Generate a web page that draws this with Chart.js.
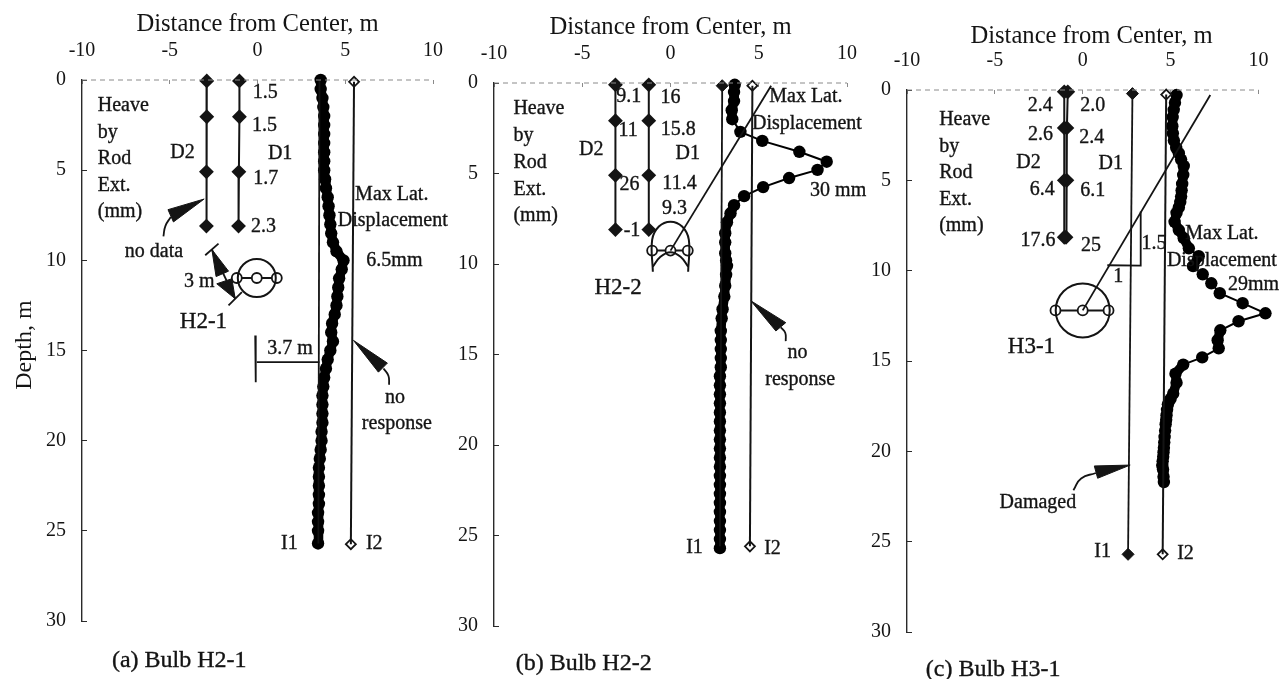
<!DOCTYPE html>
<html>
<head>
<meta charset="utf-8">
<script src="https://cdn.jsdelivr.net/npm/chart.js@4/dist/chart.umd.min.js"></script>
<style>
  html, body { margin: 0; padding: 0; background: #fff; overflow: hidden; }
  canvas { position: absolute; top: 0; }
</style>
</head>
<body>
<canvas id="panel-a" width="450" height="679" style="left:0"></canvas>
<canvas id="panel-b" width="420" height="679" style="left:450px"></canvas>
<canvas id="panel-c" width="421" height="679" style="left:860px"></canvas>
<script>
const distanceTicks = [-10, -5, 0, 5, 10]
const depthTicks = [0, 5, 10, 15, 20, 25, 30]

// (a) Bulb H2-1
const aI1Depth = [0, 0.5, 1, 1.5, 2, 2.5, 3, 3.5, 4, 4.5, 5, 5.5, 6, 6.5, 7, 7.5, 8, 8.5, 9, 9.5, 10, 10.5, 11, 11.5, 12, 12.5, 13, 13.5, 14, 14.5, 15, 15.5, 16, 16.5, 17, 17.5, 18, 18.5, 19, 19.5, 20, 20.5, 21, 21.5, 22, 22.5, 23, 23.5, 24, 24.5, 25, 25.7]
const aI1Disp = [3.6, 3.6, 3.7, 3.75, 3.8, 3.8, 3.8, 3.8, 3.8, 3.8, 3.8, 3.85, 3.9, 4.0, 4.05, 4.1, 4.15, 4.2, 4.3, 4.5, 4.9, 4.8, 4.65, 4.6, 4.55, 4.5, 4.4, 4.25, 4.2, 4.3, 4.15, 4.0, 3.9, 3.8, 3.75, 3.7, 3.7, 3.7, 3.7, 3.65, 3.65, 3.6, 3.55, 3.5, 3.5, 3.5, 3.5, 3.5, 3.45, 3.45, 3.45, 3.45]
const aI1Line = [[3.53, 0], [3.47, 25.7]]
const aI2Line = [[5.5, 0.1], [5.32, 25.74]]
const aD2 = [[-2.89, 0.05], [-2.89, 2.04], [-2.91, 5.09], [-2.91, 8.1]]
const aD1 = [[-1.03, 0.05], [-1.03, 2.04], [-1.06, 5.09], [-1.08, 8.1]]
const aBulbDots = [[-1.18, 10.98], [-0.04, 10.98], [1.1, 10.98]]
const aWedges = [
  [[-3.04, 6.6], [-5.1, 7.19], [-4.79, 7.87]],
  [[-2.6, 9.4], [-2.36, 10.9], [-1.65, 10.6]],
  [[-1.27, 12.13], [-2.32, 11.3], [-1.46, 11.02]],
  [[5.47, 14.44], [7.4, 15.7], [6.89, 16.2]],
]
const aLeaders = [
  [[-4.94, 7.6], [-5.25, 8.1], [-5.36, 8.67]],
  [[7.18, 16], [7.46, 16.4], [7.5, 16.9]],
]
const aRules = [
  [[-2.98, 9.72], [-2.22, 9.07]],
  [[-1.65, 12.5], [-0.89, 11.76]],
  [[-2.6, 9.4], [-1.27, 12.13]],
  [[-0.04, 15.65], [3.53, 15.65]],
  [[-0.13, 14.17], [-0.1, 16.76]],
]
const aLabels = [
  ['Heave', -9.1, 1.44, 'left'], ['by', -9.1, 2.93, 'left'], ['Rod', -9.1, 4.37, 'left'], ['Ext.', -9.1, 5.87, 'left'], ['(mm)', -9.1, 7.33, 'left'],
  ['1.5', 0.44, 0.7], ['1.5', 0.4, 2.56], ['1.7', 0.47, 5.5], ['2.3', 0.34, 8.15],
  ['D2', -4.27, 4.04], ['D1', 1.29, 4.11],
  ['Max Lat.', 7.65, 6.39], ['Displacement', 7.71, 7.81], ['6.5mm', 7.8, 10],
  ['no data', -5.9, 9.5], ['3 m', -3.32, 11.2], ['3.7 m', 1.86, 14.9],
  ['no', 7.84, 17.6], ['response', 7.94, 19.07], ['I1', 1.82, 25.69], ['I2', 6.65, 25.69],
  ['H2-1', -3.08, 13.43, 'center', 23], ['(a) Bulb H2-1', -4.46, 32.2, 'center', 24],
]

// (b) Bulb H2-2
const bI1Depth = [0.1, 0.5, 1, 1.5, 2, 2.7, 3.2, 3.8, 4.35, 4.8, 5.25, 5.75, 6.25, 6.75, 7.2, 7.7, 8.3, 8.8, 9.4, 9.8, 10.1, 10.6, 11.2, 11.8, 12.5, 13, 13.7, 14.2, 14.7, 15.2, 15.7, 16.2, 16.7, 17.2, 17.7, 18.2, 18.7, 19.2, 19.7, 20.2, 20.7, 21.2, 21.7, 22.2, 22.7, 23.2, 23.7, 24.2, 24.7, 25.2, 25.7]
const bI1Disp = [3.64, 3.6, 3.6, 3.47, 3.5, 3.96, 5.2, 7.3, 8.85, 8.33, 6.72, 5.25, 4.17, 3.6, 3.4, 3.2, 3.1, 3.1, 3.1, 3.15, 3.2, 3.15, 3.1, 3.05, 2.95, 2.9, 2.85, 2.85, 2.85, 2.85, 2.85, 2.8, 2.8, 2.8, 2.8, 2.8, 2.8, 2.8, 2.8, 2.8, 2.8, 2.8, 2.8, 2.8, 2.8, 2.8, 2.8, 2.8, 2.8, 2.8, 2.8]
const bI1Line = [[2.93, 0.15], [2.8, 25.6]]
const bI2Line = [[4.64, 0.15], [4.5, 25.6]]
const bD2 = [[-3.12, 0.1], [-3.12, 2.08], [-3.12, 5.1], [-3.12, 8.1]]
const bD1 = [[-1.23, 0.1], [-1.23, 2.08], [-1.23, 5.1], [-1.23, 8.1]]
const bBulbDots = [[-1.04, 9.26], [0, 9.26], [0.98, 9.26]]
const bWedges = [
  [[4.55, 12.03], [6.53, 13.24], [5.97, 13.7]],
]
const bLeaders = [
  [[6.25, 13.5], [6.5, 13.8], [6.53, 14.26]],
]
const bRules = [
  [[5.7, 0.15], [0, 9.26]],
]
const bArches = [
  [[-1, 10.43], [-1.04, 8.67], [-0.66, 7.93], [0, 7.66], [0.66, 7.93], [1.04, 8.67], [1, 10.43]],
  [[-1, 10.15], [-0.57, 9.6], [0, 9.35], [0.57, 9.6], [1, 10.15]],
]
const bLabels = [
  ['Heave', -8.9, 1.43, 'left'], ['by', -8.9, 2.93, 'left'], ['Rod', -8.9, 4.39, 'left'], ['Ext.', -8.9, 5.89, 'left'], ['(mm)', -8.9, 7.35, 'left'],
  ['9.1', -2.37, 0.78], ['16', 0, 0.8], ['11', -2.4, 2.63], ['15.8', 0.44, 2.59],
  ['D2', -4.49, 3.7], ['D1', 0.98, 3.89], ['26', -2.33, 5.6], ['11.4', 0.51, 5.55],
  ['9.3', 0.23, 6.94], ['-1', -2.18, 8.15],
  ['Max Lat.', 7.67, 0.78], ['Displacement', 7.73, 2.26], ['30 mm', 9.5, 5.96],
  ['no', 7.2, 14.9], ['response', 7.35, 16.4], ['I1', 1.36, 25.7], ['I2', 5.78, 25.75],
  ['H2-2', -2.97, 11.33, 'center', 23], ['(b) Bulb H2-2', -4.92, 32.1, 'center', 24],
]

// (c) Bulb H3-1
const cI1Depth = [0.28, 0.7, 1.1, 1.5, 2, 2.4, 2.8, 3.2, 3.5, 3.85, 4.2, 4.7, 5.2, 5.55, 5.9, 6.2, 6.5, 6.8, 7.3, 7.75, 8.2, 8.76, 9.2, 9.75, 10.2, 10.7, 11.25, 11.8, 12.36, 12.8, 13.3, 13.85, 14.3, 14.8, 15.2, 15.7, 16.2, 16.8, 17.1, 17.4, 17.7, 18, 18.25, 18.5, 18.85, 19.2, 19.5, 19.8, 20.05, 20.3, 20.55, 20.8, 21, 21.4, 21.7]
const cI1Disp = [5.34, 5.25, 5.18, 5.12, 5.1, 5.13, 5.19, 5.32, 5.47, 5.6, 5.75, 5.72, 5.66, 5.63, 5.6, 5.55, 5.47, 5.34, 5.23, 5.47, 5.75, 6.04, 6.6, 6.28, 6.83, 7.32, 7.8, 9.1, 10.4, 8.87, 7.83, 7.68, 7.74, 6.8, 5.72, 5.28, 5.34, 5.15, 5, 4.85, 4.8, 4.77, 4.75, 4.72, 4.69, 4.66, 4.64, 4.62, 4.6, 4.58, 4.55, 4.53, 4.57, 4.6, 4.62]
const cI1Line = [[2.83, 0.2], [2.58, 25.7]]
const cI2Line = [[4.75, 0.25], [4.55, 25.7]]
const cD2 = [[-1.05, 0.1], [-1.05, 2.1], [-1.05, 5], [-1.05, 8.15]]
const cD1 = [[-0.85, 0.1], [-0.9, 2.1], [-0.9, 5], [-0.95, 8.15]]
const cBulbDots = [[-1.55, 12.2], [0, 12.2], [1.47, 12.2]]
const cWedges = [
  [[2.7, 20.76], [0.66, 20.81], [0.85, 21.49]],
]
const cLeaders = [
  [[0.75, 21.2], [-0.09, 21.5], [-0.53, 22.15]],
]
const cRules = [
  [[7.26, 0.28], [0, 12.2]],
  [[1.4, 9.7], [3.3, 9.72], [3.3, 6.73]],
]
const cLabels = [
  ['Heave', -8.17, 1.66, 'left'], ['by', -8.17, 3.14, 'left'], ['Rod', -8.17, 4.58, 'left'], ['Ext.', -8.17, 6.05, 'left'], ['(mm)', -8.17, 7.53, 'left'],
  ['2.4', -2.42, 0.89], ['2.0', 0.57, 0.89], ['2.6', -2.4, 2.49], ['2.4', 0.51, 2.64],
  ['D2', -3.08, 4], ['D1', 1.6, 4.1], ['6.4', -2.3, 5.54], ['6.1', 0.57, 5.59],
  ['17.6', -2.55, 8.34], ['25', 0.47, 8.63],
  ['Max Lat.', 7.92, 7.93], ['Displacement', 7.92, 9.45], ['29mm', 9.72, 10.8],
  ['1.5', 4.06, 8.49], ['1', 2.02, 10.33],
  ['I1', 1.13, 25.55], ['I2', 5.85, 25.65], ['Damaged', -2.55, 22.82],
  ['H3-1', -2.92, 14.2, 'center', 23], ['(c) Bulb H3-1', -5.1, 32.07, 'center', 24],
]

const ink = '#141414'
const serif = '"Liberation Serif", serif'

function pairs(list) {
  return list.map((p) => ({ x: p[0], y: p[1] }))
}

function zip(xs, ys) {
  return xs.map((x, i) => ({ x: x, y: ys[i] }))
}

function line(data, width, extra) {
  return Object.assign({ data: data, showLine: true, borderColor: ink, borderWidth: width, pointRadius: 0, clip: false }, extra)
}

// text notes sit in data units, so they follow the axes
const notesPlugin = {
  id: 'notes',
  afterDatasetsDraw(chart, args, opts) {
    const ctx = chart.ctx
    ctx.save()
    ctx.fillStyle = ink
    ctx.strokeStyle = ink
    ctx.lineWidth = 0.35
    ctx.textBaseline = 'middle'
    opts.labels.forEach((n) => {
      ctx.font = (n[4] || 20) + 'px ' + serif
      ctx.textAlign = n[3] || 'center'
      const px = chart.scales.x.getPixelForValue(n[1])
      const py = chart.scales.y.getPixelForValue(n[2])
      ctx.fillText(n[0], px, py)
      ctx.strokeText(n[0], px, py)
    })
    ctx.restore()
  },
}

function drawPanel(id, p) {
  const datasets = []
  // dashed top edge of the plot
  datasets.push(line(pairs([[-10, 0], [10, 0]]), 1, { borderColor: '#8a8a8a', borderDash: [5, 4] }))
  p.rules.forEach((r) => datasets.push(line(pairs(r), 1.8)))
  p.leaders.forEach((r) => datasets.push(line(pairs(r), 1.8, { tension: 0.5 })))
  p.wedges.forEach((w) =>
    datasets.push(line(pairs(w.concat([w[0]])), 1, { fill: 'shape', backgroundColor: ink })),
  )
  ;(p.arches || []).forEach((r) => datasets.push(line(pairs(r), 2, { tension: 0.4 })))
  if (p.bulbRadius) {
    datasets.push({ data: pairs([p.bulbDots[1]]), pointRadius: p.bulbRadius, pointBackgroundColor: 'transparent', pointBorderColor: ink, pointBorderWidth: 2, clip: false })
  }
  datasets.push(line(pairs(p.bulbDots), 2, { pointRadius: 5, pointBackgroundColor: '#fff', pointBorderColor: ink, pointBorderWidth: 1.8 }))
  datasets.push(line(pairs(p.d2), 2, { pointStyle: 'rectRot', pointRadius: 6, pointBackgroundColor: ink, pointBorderColor: ink }))
  datasets.push(line(pairs(p.d1), 2, { pointStyle: 'rectRot', pointRadius: 6, pointBackgroundColor: ink, pointBorderColor: ink }))
  datasets.push(line(pairs(p.i1Line), 1.8))
  datasets.push(line(pairs(p.i2Line), 2))
  if (p.i1Ends) {
    datasets.push({ data: pairs(p.i1Ends), pointStyle: 'rectRot', pointRadius: 6, pointBackgroundColor: ink, pointBorderColor: ink, clip: false })
  }
  datasets.push({ data: pairs(p.i2Ends), pointStyle: 'rectRot', pointRadius: 5, pointBackgroundColor: '#fff', pointBorderColor: ink, pointBorderWidth: 1.8, clip: false })
  // close spacing reads as a solid band, so the near vertical runs get a thick line
  datasets.push(line(zip(p.i1Disp, p.i1Depth), 2, {
    pointRadius: 6.2,
    pointBackgroundColor: '#000',
    pointBorderWidth: 0,
    borderColor: '#000',
    segment: {
      borderWidth: (ctx) => (Math.abs(ctx.p0.parsed.x - ctx.p1.parsed.x) < 0.45 ? 9.5 : 2),
    },
  }))

  new Chart(document.getElementById(id), {
    type: 'scatter',
    data: { datasets: datasets },
    plugins: [notesPlugin],
    options: {
      responsive: false,
      animation: false,
      layout: { autoPadding: false, padding: { top: p.top - 70, bottom: 679 - p.bottom, right: p.right, left: 0 } },
      plugins: { legend: { display: false }, tooltip: { enabled: false }, notes: { labels: p.labels } },
      scales: {
        x: {
          position: 'top',
          min: -10,
          max: p.xMax,
          afterBuildTicks(scale) {
            scale.ticks = distanceTicks.map((v) => ({ value: v }))
          },
          afterFit(scale) {
            scale.height = 70
            scale.paddingLeft = 0
            scale.paddingRight = 0
          },
          border: { display: false },
          grid: { drawOnChartArea: false, tickLength: -4, color: '#8a8a8a' },
          ticks: { padding: 21, color: ink, font: { family: serif, size: 20 }, maxRotation: 0, autoSkip: false },
          title: { display: true, text: 'Distance from Center, m', color: ink, font: { family: serif, size: 24.6 }, padding: { top: p.titlePad, bottom: 0 } },
        },
        y: {
          reverse: true,
          min: 0,
          max: 30,
          afterBuildTicks(scale) {
            scale.ticks = depthTicks.map((v) => ({ value: v }))
          },
          afterFit(scale) {
            scale.width = p.left
            scale.paddingTop = 0
            scale.paddingBottom = 0
          },
          border: { color: '#2a2a2a', width: 1.4 },
          grid: { drawOnChartArea: false, tickLength: -5, color: '#2a2a2a' },
          ticks: { padding: 21, color: ink, font: { family: serif, size: 20 }, autoSkip: false },
          title: { display: false },
        },
      },
    },
  })
}

drawPanel('panel-a', {
  left: 82, right: 17, top: 80, bottom: 621, titlePad: 0, xMax: 10,
  i1Disp: aI1Disp, i1Depth: aI1Depth, i1Line: aI1Line, i2Line: aI2Line,
  i2Ends: [aI2Line[0], aI2Line[1]],
  d2: aD2, d1: aD1, bulbDots: aBulbDots, bulbRadius: 19,
  wedges: aWedges, leaders: aLeaders, rules: aRules, labels: aLabels,
})

drawPanel('panel-b', {
  left: 44, right: 23, top: 83, bottom: 626, titlePad: 0, xMax: 10,
  i1Disp: bI1Disp, i1Depth: bI1Depth, i1Line: bI1Line, i2Line: bI2Line,
  i1Ends: [bI1Line[0]],
  i2Ends: [bI2Line[0], bI2Line[1]],
  d2: bD2, d1: bD1, bulbDots: bBulbDots,
  wedges: bWedges, leaders: bLeaders, rules: bRules, arches: bArches, labels: bLabels,
})

// the scale runs a little past 10 so the 29 mm peak stays on the plot
drawPanel('panel-c', {
  left: 47, right: 5, top: 90, bottom: 632, titlePad: 2, xMax: 11,
  i1Disp: cI1Disp, i1Depth: cI1Depth, i1Line: cI1Line, i2Line: cI2Line,
  i1Ends: [cI1Line[0], cI1Line[1]],
  i2Ends: [cI2Line[0], cI2Line[1]],
  d2: cD2, d1: cD1, bulbDots: cBulbDots, bulbRadius: 27,
  wedges: cWedges, leaders: cLeaders, rules: cRules, labels: cLabels,
})

// rotated depth title of the first panel, placed on the first chart's own y scale
const depthChart = Chart.getChart('panel-a')
const depthCtx = depthChart.ctx
depthCtx.save()
depthCtx.translate(25, depthChart.scales.y.getPixelForValue(14.7))
depthCtx.rotate(-Math.PI / 2)
depthCtx.font = '24px ' + serif
depthCtx.fillStyle = ink
depthCtx.textAlign = 'center'
depthCtx.textBaseline = 'middle'
depthCtx.fillText('Depth, m', 0, 0)
depthCtx.restore()
</script>
</body>
</html>
